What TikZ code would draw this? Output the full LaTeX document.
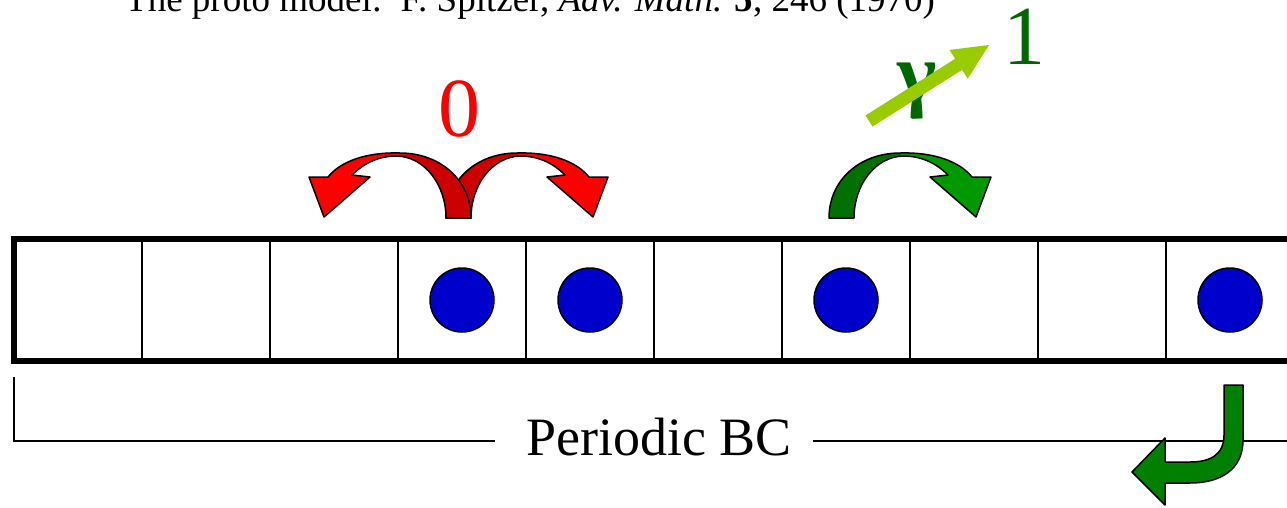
\documentclass[tikz,border=0pt]{standalone}
\usepackage{fontspec}
\setmainfont{Liberation Serif}
\definecolor{ballblue}{RGB}{0,0,204}
\definecolor{reddark}{RGB}{204,0,0}
\definecolor{redbright}{RGB}{255,0,0}
\definecolor{grdark}{RGB}{0,112,0}
\definecolor{grbright}{RGB}{0,153,0}
\definecolor{grret}{RGB}{0,128,0}
\definecolor{lime}{RGB}{153,204,0}
\definecolor{txtgreen}{RGB}{0,102,0}
\tikzset{
  cell/.style={draw, line width=2pt, minimum width=128pt, minimum height=122pt, inner sep=0pt, outer sep=0pt},
  ball/.style={circle, draw, line width=1.5pt, fill=ballblue, minimum size=64pt, inner sep=0pt},
  bcline/.style={line width=1.5pt},
  outl/.style={draw=black, line width=1.5pt, line join=round},
}
\newcommand{\hoparrow}[3]{%
\begin{scope}[#1]
\fill[#2] (-12.5,0) .. controls (-12.5,-38) and (18.5,-65) .. (58.5,-65) -- (61.5,-62) .. controls (33.5,-61) and (12.5,-33) .. (12.5,0) -- cycle;
\fill[#3] (58.5,-65) .. controls (93.5,-66) and (118.5,-56) .. (130.5,-41) -- (149.5,-41) -- (134.5,-1) -- (88.5,-41) -- (106.5,-43) .. controls (93.5,-56) and (78.5,-62) .. (61.5,-62) -- cycle;
\draw[outl] (-12.5,0) .. controls (-12.5,-38) and (18.5,-65) .. (58.5,-65) .. controls (93.5,-66) and (118.5,-56) .. (130.5,-41) -- (149.5,-41) -- (134.5,-1) -- (88.5,-41) -- (106.5,-43) .. controls (93.5,-56) and (78.5,-62) .. (61.5,-62) .. controls (33.5,-61) and (12.5,-33) .. (12.5,0) -- cycle;
\end{scope}}
\begin{document}
\begin{tikzpicture}[x=1pt,y=-1pt]
\useasboundingbox (0,0) rectangle (1287,507);
\clip (0,0) rectangle (1287,507);
\fill[white] (0,0) rectangle (1287,507);
% title (cut at top, as in the reference)
\node[anchor=base west, inner sep=0pt, font=\fontsize{37}{42}\selectfont] (title) at (125,11)
  {The proto model:\ \ F. Spitzer, \textit{Adv. Math.} \textbf{5}, 246 (1970)};
% lattice
\foreach \i in {0,...,9} \node[cell] (c\i) at ({78+128*\i},300) {};
\draw[line width=6pt] (c0.north west) rectangle (c9.south east);
\foreach \i in {3,4,6,9} \node[ball] (b\i) at (c\i) {};
% hop arrows
\hoparrow{shift={(458.5,218)}}{reddark}{redbright}
\hoparrow{shift={(458.5,218)},xscale=-1}{reddark}{redbright}
\hoparrow{shift={(841.5,218)}}{grdark}{grbright}
% labels
\node[anchor=base, inner sep=0pt, text=redbright, font=\fontsize{84}{90}\selectfont] (zero) at (459,136) {0};
\node[anchor=base, inner sep=0pt, text=txtgreen, font=\fontsize{84}{90}\selectfont] (one) at (1024,64) {1};
\node[anchor=base, inner sep=0pt, text=txtgreen, font=\bfseries\fontsize{84}{90}\selectfont] (gam) at (917,101) {γ};
\fill[lime] (865.5,115.5) -- (955.1,58.8) -- (949.5,49.9) -- (989,45) -- (967.7,78.7) -- (962.1,69.8) -- (872.5,126.5) -- cycle;
% periodic BC
\node[anchor=base, inner sep=0pt, font=\fontsize{54}{60}\selectfont] (pbc) at (659,455) {Periodic BC};
\coordinate (bl) at (14,377);
\coordinate (lend) at (495,441);
\coordinate (rstart) at (813,441);
\coordinate (rend) at (1295,441);
\draw[bcline] (bl) -- (bl |- lend) -- (lend);
\draw[bcline] (rstart) -- (rend);
% return arrow
\filldraw[fill=grret, outl] (1224,385) -- (1243,385) -- (1243,440) .. controls (1243,470) and (1220,483) .. (1190,483) -- (1165,483) -- (1165,505) -- (1132,472) -- (1165,438) -- (1165,462) -- (1190,462) .. controls (1210,462) and (1224,455) .. (1224,435) -- cycle;
\end{tikzpicture}
\end{document}
